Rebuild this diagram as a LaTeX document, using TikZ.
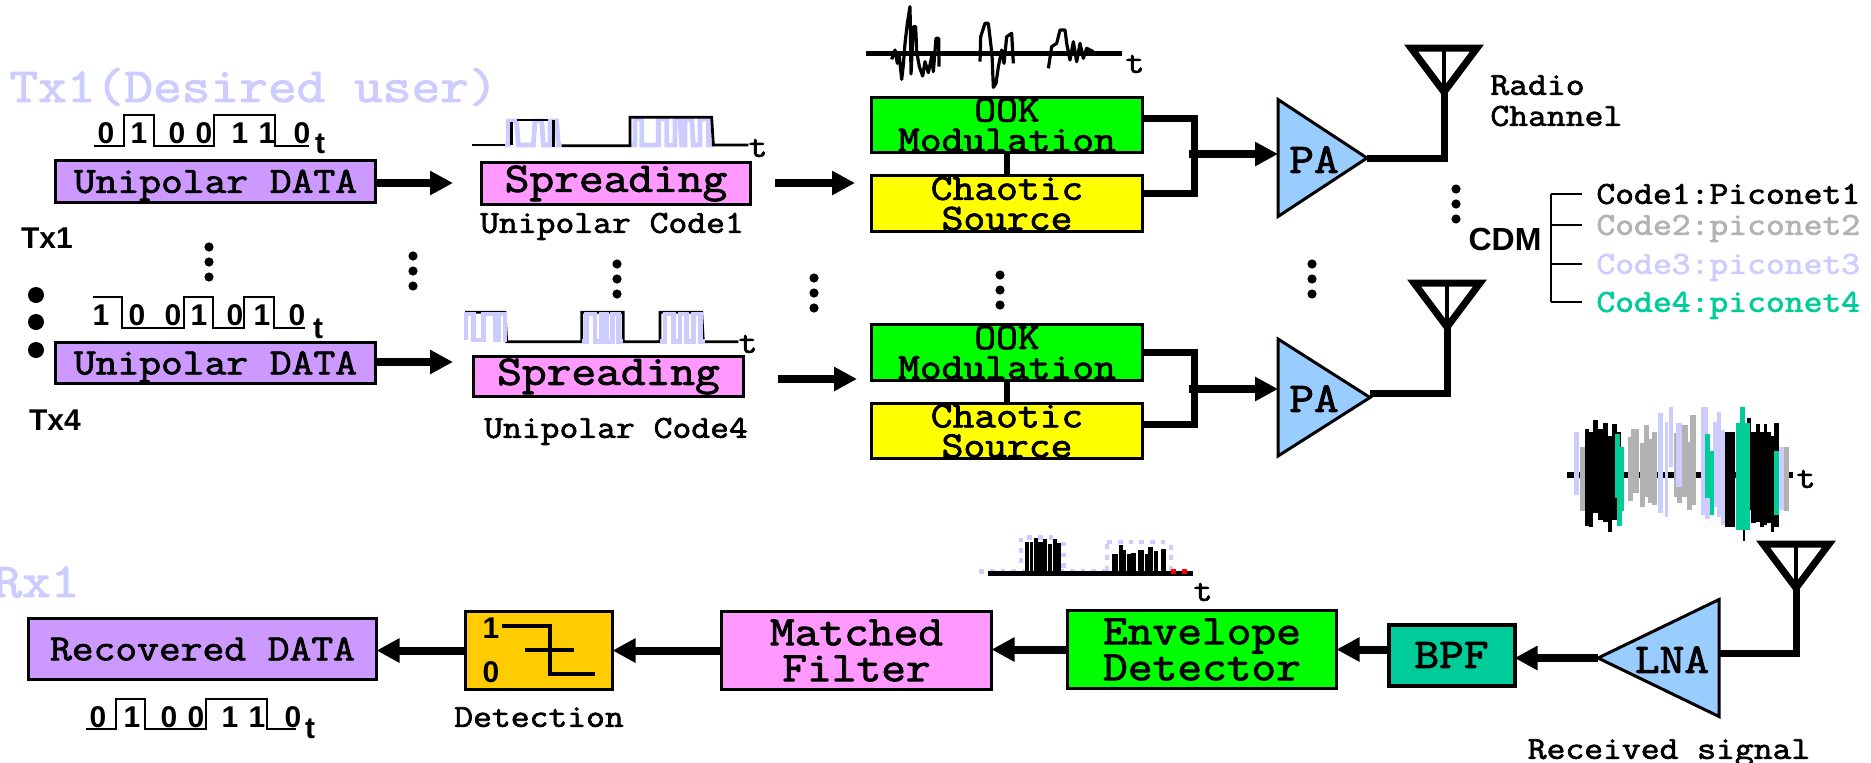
\documentclass[tikz,border=0pt]{standalone}
\usepackage{fontspec}
\setmonofont{Latin Modern Mono}[FakeStretch=1.143,FakeBold=2.2]
\newfontfamily\arl{Liberation Sans}
\usetikzlibrary{shapes.geometric,arrows.meta}
\definecolor{lilac}{HTML}{CC99FF}
\definecolor{pinkbox}{HTML}{FF99FF}
\definecolor{skyamp}{HTML}{99CCFF}
\definecolor{goldbox}{HTML}{FFCC00}
\definecolor{tealbox}{HTML}{00CC99}
\definecolor{lavender}{HTML}{CCCCFF}
\definecolor{midgray}{HTML}{B2B2B2}
\definecolor{greenbox}{HTML}{00FF00}
\definecolor{yellowbox}{HTML}{FFFF00}

\begin{document}
\begin{tikzpicture}[x=0.5pt,y=-0.5pt,
    main/.style = {draw, line width=1.5pt, inner sep=0pt, outer sep=0pt, align=center},
    f37/.style = {font=\ttfamily\fontsize{18.5}{15}\selectfont},
    f42/.style = {font=\ttfamily\fontsize{21}{18}\selectfont},
    line37/.style = {text height=11.3pt, text depth=0pt},
    lbl/.style = {inner sep=0pt, font=\ttfamily\fontsize{16}{17}\selectfont, text height=9.8pt, text depth=0pt},
    sans/.style = {inner sep=0pt, font=\arl\bfseries\fontsize{15}{15}\selectfont, text height=10.7pt, text depth=0pt},
    amp/.style = {draw, line width=1.5pt, fill=skyamp, isosceles triangle, isosceles triangle stretches, inner sep=0pt, outer sep=0pt},
    ant/.style = {draw, line width=3.5pt, isosceles triangle, isosceles triangle stretches, shape border rotate=-90, inner sep=0pt, outer sep=0pt, minimum width=33pt, minimum height=22pt, anchor=lower side},
    arr/.style = {line width=4pt, -{Triangle[length=11.5pt,width=11.5pt]}},
    wire/.style = {line width=3.5pt},
    wave/.style = {line width=1.4pt},
    dot/.style = {circle, fill, inner sep=0pt, minimum size=4.6pt},
    bigdot/.style = {circle, fill, inner sep=0pt, minimum size=8pt}]
    \useasboundingbox (0,0) rectangle (1871,762);

    % titles
    \node[inner sep=0pt, anchor=west, text=lavender, font=\ttfamily\fontsize{24.4}{24}\selectfont] (t1) at (9,87) {Tx1(Desired user)};
    \node[inner sep=0pt, anchor=west, text=lavender, font=\ttfamily\fontsize{24.4}{24}\selectfont] (t2) at (-7,582) {Rx1};

    % transmitter 1
    \node[main,f37,line37,fill=lilac,minimum width=160pt,minimum height=21pt] (1) at (215.5,181.5) {Unipolar DATA};
    \node[main,f42,fill=pinkbox,minimum width=134.5pt,minimum height=21pt] (2) [right of=1,node distance=200.25pt,yshift=-1pt] {Spreading};
    \node[main,f37,fill=greenbox,minimum width=135.5pt,minimum height=27.5pt] (3) at (1007,125) {OOK\\Modulation};
    \node[main,f37,fill=yellowbox,minimum width=135.5pt,minimum height=28pt] (4) [below of=3,node distance=39.25pt] {Chaotic\\Source};
    \node[amp,minimum width=58.5pt,minimum height=44.5pt,anchor=lower side] (5) at (1278,158) {};
    \node[inner sep=0pt,f42,text height=12.8pt,text depth=0pt] (5t) at (1314,160) {PA};
    \node[ant] (a1) at (1444,48) {};

    % transmitter 4
    \node[main,f37,line37,fill=lilac,minimum width=160pt,minimum height=20.5pt] (6) at (215.5,363) {Unipolar DATA};
    \node[main,f42,fill=pinkbox,minimum width=135pt,minimum height=20pt] (7) [right of=6,node distance=196.5pt,yshift=-6.75pt] {Spreading};
    \node[main,f37,fill=greenbox,minimum width=135.5pt,minimum height=28pt] (8) at (1007,352.5) {OOK\\Modulation};
    \node[main,f37,fill=yellowbox,minimum width=135.5pt,minimum height=27.5pt] (9) [below of=8,node distance=39.25pt] {Chaotic\\Source};
    \node[amp,minimum width=58.5pt,minimum height=46pt,anchor=lower side] (10) at (1278,397.5) {};
    \node[inner sep=0pt,f42,text height=12.8pt,text depth=0pt] (10t) at (1314,399) {PA};
    \node[ant] (a2) at (1447,283) {};

    % receiver
    \node[main,f37,line37,fill=lilac,minimum width=174pt,minimum height=30.5pt] (15) at (202.5,649) {Recovered DATA};
    \node[main,fill=goldbox,minimum width=73.5pt,minimum height=39pt] (16) [right of=15,node distance=168.25pt,yshift=-0.75pt] {};
    \node[main,f42,fill=pinkbox,minimum width=135pt,minimum height=39pt] (17) [right of=16,node distance=158.75pt] {Matched\\Filter};
    \node[main,f42,fill=greenbox,minimum width=134.5pt,minimum height=39pt] (18) [right of=17,node distance=172.75pt,yshift=0.5pt] {Envelope\\Detector};
    \node[main,f42,line width=2pt,fill=tealbox,minimum width=63pt,minimum height=30.5pt] (19) [right of=18,node distance=124.75pt,yshift=-2.75pt] {BPF};
    \node[amp,shape border rotate=180,minimum width=58.5pt,minimum height=60.5pt,anchor=lower side] (20) at (1719,658) {};
    \node[inner sep=0pt,f42,text height=12.8pt,text depth=0pt] (20t) at (1672,660) {LNA};
    \node[ant] (a3) at (1796,544) {};

    % detector symbol
    \node[sans] (d1) at (491,628) {1};
    \node[sans] (d0) at (491,672) {0};
    \draw[wave,line width=2pt] (502,626) -- (550,626) -- (550,674) -- (595,674);
    \draw[wave,line width=2pt] (525,650) -- (574,650);

    % text labels
    \node[lbl] (u1) at (612,223) {Unipolar Code1};
    \node[lbl] (u4) at (616,428) {Unipolar Code4};
    \node[lbl] (dt) at (539,717) {Detection};
    \node[lbl] (rs) at (1669,749) {Received signal};
    \node[lbl,anchor=west] (r1) at (1490,85) {Radio};
    \node[lbl,anchor=west] (r2) at (1490,116) {Channel};
    \node[sans] (x1) at (47,238) {Tx1};
    \node[sans] (x4) at (55,420) {Tx4};
    \node[sans,font=\arl\bfseries\fontsize{16}{16}\selectfont] (cdm) at (1505,240) {CDM};
    \node[lbl,anchor=west] (11) at (1596,194) {Code1:Piconet1};
    \node[lbl,anchor=west,text=midgray] (12) at (1596,225) {Code2:piconet2};
    \node[lbl,anchor=west,text=lavender] (13) at (1596,264) {Code3:piconet3};
    \node[lbl,anchor=west,text=tealbox] (14) at (1596,302) {Code4:piconet4};

    % tree
    \draw[line width=1pt] ([xshift=-22.5pt]11.west) -- ([xshift=-22.5pt]14.west);
    \foreach \n in {11,12,13,14}
        \draw[line width=1pt] ([xshift=-22.5pt]\n.west) -- ([xshift=-7pt]\n.west);

    % arrows
    \coordinate (j1) at (1194,154);
    \coordinate (j2) at (1194,389);
    \coordinate (c1) at (453,183);
    \coordinate (c2) at (453,362);
    \coordinate (c3) at (855,183);
    \coordinate (c4) at (857,379);
    \coordinate (c5) at (775,183);
    \coordinate (c6) at (778,379);
    \draw[arr] (1.east |- c1) -- (c1);
    \draw[arr] (6.east |- c2) -- (c2);
    \draw[arr] (c5) -- (c3);
    \draw[arr] (c6) -- (c4);
    \draw[line width=3pt] (3) -- (4);
    \draw[line width=3pt] (8) -- (9);
    \draw[wire] ([yshift=3.5pt]3.east) -| (j1);
    \draw[wire] ([yshift=5.25pt]4.east) -| (j1);
    \draw[wire] (8.east) -| (j2);
    \draw[wire] ([yshift=3.5pt]9.east) -| (j2);
    \draw[arr] ([xshift=-2.5pt]j1) -- (j1 -| 5.lower side);
    \draw[arr] ([xshift=-2.5pt]j2) -- (j2 -| 10.lower side);
    \draw[wire] (5.apex) -| (a1.apex);
    \draw[wire] ([yshift=2pt]10.apex) -| (a2.apex);
    \draw[wire] (a3.apex) |- ([yshift=2.5pt]20.lower side);
    \draw[arr] (20.apex) -- (20.apex -| 19.east);
    \draw[arr] (19.west |- 18.east) -- (18.east);
    \draw[arr] (18.west) -- (18.west -| 17.east);
    \draw[arr] (17.west) -- (16.east);
    \draw[arr] (16.west) -- (16.west -| 15.east);
    \draw[line width=2pt] (a1.lower side) -- (a1.apex);
    \draw[line width=2pt] (a2.lower side) -- (a2.apex);
    \draw[line width=2pt] (a3.lower side) -- (a3.apex);

    % ellipsis dots
    \foreach \x/\a in {209/247,413/256,617/264,1000/275,814/278,1312/264,1456/189}
        \foreach \k in {0,1,2}
            \node[dot] (e\x\k) at (\x,\a+\k*15) {};
    \foreach \k/\a in {0/295,1/322,2/350}
        \node[bigdot] (b\k) at (36,\a) {};

    % data waveforms
    \draw[wave] (94,146) -- (124,146) -- (124,115) -- (154,115) -- (154,146) -- (214,146) -- (214,115) -- (275,115) -- (275,146) -- (309,146);
    \foreach \d/\x in {0/106,1/139,0/177,0/204,1/240,1/267,0/302}
        \node[sans] (p\x) at (\x,133) {\d};
    \node[sans] (pt) at (320,143) {t};
    \draw[wave] (93,297) -- (122,297) -- (122,328) -- (184,328) -- (184,297) -- (213,297) -- (213,328) -- (244,328) -- (244,297) -- (274,297) -- (274,328) -- (305,328);
    \foreach \d/\x in {1/101,0/137,0/173,1/199,0/235,1/262,0/297}
        \node[sans] (q\x) at (\x,315) {\d};
    \node[sans] (qt) at (318,328) {t};
    \draw[wave] (86,729) -- (116,729) -- (116,699) -- (145,699) -- (145,729) -- (206,729) -- (206,699) -- (267,699) -- (267,729) -- (296,729);
    \foreach \d/\x in {0/98,1/132,0/169,0/196,1/230,1/257,0/293}
        \node[sans] (s\x) at (\x,717) {\d};
    \node[sans] (st) at (310,728) {t};

    % spreading wave 1
    \begin{scope}[shift={(465,105)},x=0.16667pt,y=-0.16667pt]
        \draw[lavender,line width=2.4pt] (120,120) -- (130,120) -- (130,48) -- (155,48) -- (160,120) -- (205,120) -- (210,48) -- (230,48) -- (235,120) -- (255,120) -- (255,48) -- (275,48) -- (280,120) -- (290,120);
        \draw[lavender,line width=2.4pt] (495,120) -- (510,120) -- (510,42) -- (530,42) -- (530,120) -- (580,120) -- (580,42) -- (605,42) -- (605,120) -- (630,120) -- (630,42) -- (645,42) -- (650,120) -- (660,120) -- (660,42) -- (680,42) -- (685,120) -- (705,120) -- (705,42) -- (730,42) -- (730,120) -- (745,120);
        \draw[wave] (22,120) -- (120,120);
        \draw[wave] (140,120) -- (140,50);
        \draw[wave] (155,45) -- (250,45);
        \draw[wave] (265,45) -- (265,125);
        \draw[wave] (290,122) -- (490,122) -- (495,122) -- (495,37) -- (740,37) -- (745,120) -- (850,120);
    \end{scope}
    \node[lbl] (wt1) at (758,147) {t};

    % spreading wave 4
    \begin{scope}[shift={(460,300)},x=0.16667pt,y=-0.16667pt]
        \draw[wave] (15,37) -- (135,37) -- (140,125) -- (365,125) -- (365,37) -- (490,37) -- (490,125) -- (600,125) -- (600,37) -- (725,37) -- (730,125) -- (835,125);
        \draw[lavender,line width=2.4pt] (18,120) -- (18,42) -- (40,42) -- (40,120) -- (70,120) -- (70,42) -- (105,42) -- (105,120) -- (115,120) -- (115,42) -- (135,42) -- (135,125);
        \draw[lavender,line width=2.4pt] (365,125) -- (380,125) -- (380,42) -- (405,42) -- (405,125) -- (425,125) -- (425,42) -- (440,42) -- (440,125) -- (458,125) -- (458,42) -- (475,42) -- (475,125) -- (490,125);
        \draw[lavender,line width=2.4pt] (600,125) -- (615,125) -- (615,42) -- (640,42) -- (640,125) -- (660,125) -- (660,42) -- (680,42) -- (680,125) -- (700,125) -- (700,42) -- (722,42) -- (722,125) -- (735,125);
    \end{scope}
    \node[lbl] (wt4) at (748,343) {t};

    % chaotic wave
    \begin{scope}[shift={(860,0)},x=0.16667pt,y=-0.16667pt]
        \draw[line width=1.6pt,line join=round] (95,178) -- (105,150) -- (112,190) -- (118,170) -- (125,238) -- (130,195) -- (135,130) -- (142,70) -- (150,20) -- (152,150) -- (153,222) -- (160,80) -- (167,80) -- (170,155) -- (178,200) -- (188,228) -- (195,185) -- (205,218) -- (215,170) -- (220,215) -- (228,115) -- (236,115) -- (237,200);
        \draw[line width=1.6pt,line join=round] (360,185) -- (362,110) -- (375,70) -- (385,70) -- (392,130) -- (396,165) -- (400,262) -- (408,250) -- (415,200) -- (425,150) -- (432,190) -- (440,110) -- (455,100) -- (460,190);
        \draw[line width=1.6pt,line join=round] (565,205) -- (575,140) -- (590,130) -- (600,90) -- (615,90) -- (620,130) -- (630,180) -- (640,125) -- (650,185) -- (660,130) -- (670,175) -- (680,145) -- (700,155);
        \draw[line width=2.6pt] (18,160) -- (785,160);
    \end{scope}
    \node[lbl] (wtc) at (1135,63) {t};

    % received signal
    \begin{scope}[shift={(1560,400)},x=0.16667pt,y=-0.16667pt]
        \draw[line width=2.6pt] (20,225) -- (700,225);
        \foreach \a/\b/\c/\d in {60/77/140/332,205/220/110/302,212/238/88/280,240/255/130/320,253/268/75/290,265/280/118/310,277/290/95/315,342/350/100/290,350/366/120/310,367/383/75/290,380/395/125/330,390/407/45/315,672/688/140/332}
            \fill[midgray] (\a,\c) rectangle (\b,\d);
        \foreach \a/\b/\c/\d in {42/58/95/285,295/310/40/340,315/325/65/350,327/338/22/200,348/365/70/260,423/445/22/345,435/450/200/358,460/470/65/320,470/483/35/350,483/495/90/375,655/672/140/330}
            \fill[lavender] (\a,\c) rectangle (\b,\d);
        \foreach \a/\b/\c/\d in {75/88/88/378,88/100/95/382,100/113/60/340,113/130/88/360,128/143/70/365,143/157/108/395,157/170/72/360,170/183/95/200,495/525/95/380,560/573/55/330,573/587/95/368,587/600/72/365,600/612/95/380,612/622/72/375,622/632/95/370,632/642/108/395,642/658/70/380,548/556/390/423}
            \fill[black] (\a,\c) rectangle (\b,\d);
        \foreach \a/\b/\c/\d in {165/180/102/295,180/192/140/332,170/186/295/378,435/450/102/295,450/463/152/345,527/570/68/390,540/555/22/68,642/657/152/345}
            \fill[tealbox] (\a,\c) rectangle (\b,\d);
    \end{scope}
    \node[lbl] (wtr) at (1806,478) {t};

    % envelope wave
    \begin{scope}[shift={(975,530)},x=0.16667pt,y=-0.16667pt]
        \foreach \x in {20,52,84,116,148,260,292,324,356,388}
            \fill[lavender] (\x-7,118) rectangle (\x+7,132);
        \foreach \x/\a in {138/30,138/62,138/92,265/42,265/75,265/107,396/115,396/83,396/50,588/52,588/83,588/115}
            \fill[lavender] (\x-7,\a-7) rectangle (\x+7,\a+7);
        \foreach \x/\a in {164/22,196/22,228/22,404/36,436/36,468/36,500/36,532/36,564/36}
            \fill[lavender] (\x-7,\a-7) rectangle (\x+7,\a+7);
        \foreach \a/\b/\c in {150/162/35,165/175/35,178/190/25,190/205/35,205/217/28,218/232/42,234/245/28,247/257/38,412/428/72,433/443/45,444/452/60,455/468/72,468/482/68,490/506/60,510/518/72,520/535/52,537/548/62,557/572/57}
            \fill[black] (\a,\c) rectangle (\b,130);
        \draw[line width=2.3pt] (38,131) -- (655,131);
        \foreach \x in {596,628}
            \fill[red] (\x-7,117) rectangle (\x+7,131);
    \end{scope}
    \node[lbl] (wte) at (1203,591) {t};
\end{tikzpicture}
\end{document}
